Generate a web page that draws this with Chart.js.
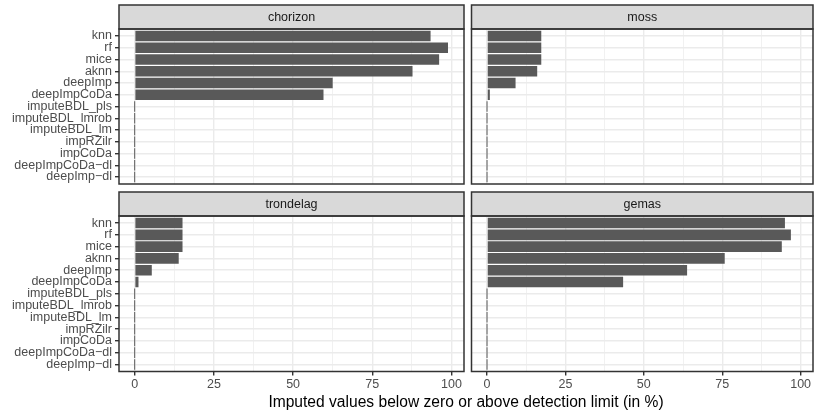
<!DOCTYPE html>
<html><head><meta charset="utf-8">
<script src="https://cdn.jsdelivr.net/npm/chart.js@4"></script>
<style>
html,body{margin:0;padding:0;background:#fff;}
#wrap{position:relative;width:815px;height:412px;overflow:hidden;font-family:"Liberation Sans",Arial,sans-serif;}
canvas{position:absolute;}
#xtitle{position:absolute;left:119px;width:694px;top:393px;text-align:center;font-size:15.6px;line-height:18px;color:#000;white-space:nowrap;}
</style></head>
<body><div id="wrap">
<canvas id="c0" width="466" height="186" style="left:0;top:0"></canvas>
<canvas id="c1" width="349" height="186" style="left:466px;top:0"></canvas>
<canvas id="c2" width="466" height="226" style="left:0;top:186px"></canvas>
<canvas id="c3" width="349" height="226" style="left:466px;top:186px"></canvas>
<div id="xtitle">Imputed values below zero or above detection limit (in %)</div>
</div>
<script>
const methods = ["knn","rf","mice","aknn","deepImp","deepImpCoDa","imputeBDL_pls","imputeBDL_lmrob","imputeBDL_lm","impRZilr","impCoDa","deepImpCoDa\u2212dl","deepImp\u2212dl"];
const panels = ["chorizon","moss","trondelag","gemas"];
const chorizon  = [93.4, 98.9, 96.1, 87.7, 62.5, 59.6, 0, 0, 0, 0, 0, 0, 0];
const moss      = [17.3, 17.3, 17.3, 16.0, 9.1, 0.9, 0, 0, 0, 0, 0, 0, 0];
const trondelag = [15.1, 15.1, 15.1, 13.9, 5.4, 1.2, 0, 0, 0, 0, 0, 0, 0];
const gemas     = [95.0, 96.9, 94.0, 75.8, 63.8, 43.4, 0, 0, 0, 0, 0, 0, 0];
const xTicks = [0, 25, 50, 75, 100];
const xMinorTicks = [12.5, 37.5, 62.5, 87.5];

const FONT = '"Liberation Sans", Arial, sans-serif';
const seriesByPanel = {chorizon, moss, trondelag, gemas};

const panelPlugin = {
  id: 'panelDeco',
  afterDraw(chart, args, opts) {
    const ctx = chart.ctx, a = chart.chartArea;
    ctx.save();
    const sTop = a.top - 24;
    ctx.fillStyle = '#D9D9D9';
    ctx.fillRect(a.left, sTop, a.right - a.left, 24);
    ctx.strokeStyle = '#333333';
    ctx.lineWidth = 1.5;
    ctx.strokeRect(a.left, sTop, a.right - a.left, 24);
    ctx.fillStyle = '#1A1A1A';
    ctx.font = '12.5px ' + FONT;
    ctx.textAlign = 'center';
    ctx.textBaseline = 'middle';
    ctx.fillText(opts.label, (a.left + a.right) / 2, sTop + 12.5);
    ctx.strokeRect(a.left, a.top, a.right - a.left, a.bottom - a.top);
    ctx.restore();
  }
};

function makeChart(id, name, showY, showX, pad) {
  const vals = seriesByPanel[name];
  const allX = xTicks.concat(xMinorTicks).sort((a, b) => a - b);
  new Chart(document.getElementById(id), {
    type: 'bar',
    data: {
      datasets: [{
        data: vals.map((v, i) => ({x: v, y: i + 1})),
        backgroundColor: '#595959',
        borderWidth: 0,
        barPercentage: 0.9,
        categoryPercentage: 1.0,
        minBarLength: 1
      }]
    },
    options: {
      indexAxis: 'y',
      responsive: false,
      animation: false,
      devicePixelRatio: 1,
      layout: {padding: pad},
      plugins: {legend: {display: false}, tooltip: {enabled: false}, panelDeco: {label: name}},
      scales: {
        x: {
          type: 'linear',
          offset: false,
          min: -4.95, max: 103.95,
          afterBuildTicks(scale) { scale.ticks = allX.map(v => ({value: v})); },
          afterFit(scale) {
            scale.height = showX ? 40.5 : 0;
            scale.paddingLeft = 0; scale.paddingRight = 0;
          },
          border: {display: false},
          grid: {
            color: '#EBEBEB',
            lineWidth: c => xTicks.includes(c.tick && c.tick.value) ? 1.4 : 0.7,
            drawTicks: showX,
            tickLength: 4,
            tickColor: c => xTicks.includes(c.tick && c.tick.value) ? '#333333' : 'rgba(0,0,0,0)'
          },
          ticks: {
            display: showX,
            autoSkip: false,
            maxRotation: 0,
            padding: 2,
            color: '#4D4D4D',
            font: {family: FONT, size: 12.5},
            callback: v => xTicks.includes(v) ? String(v) : ''
          }
        },
        y: {
          type: 'linear',
          offset: false,
          reverse: true,
          min: 0.4, max: 13.6,
          afterBuildTicks(scale) { scale.ticks = methods.map((m, i) => ({value: i + 1})); },
          afterFit(scale) {
            scale.width = showY ? 119 : 0;
            scale.paddingTop = 0; scale.paddingBottom = 0;
          },
          border: {display: false},
          grid: {
            color: '#EBEBEB',
            lineWidth: 1.4,
            offset: false,
            drawTicks: showY,
            tickLength: 4,
            tickColor: '#333333'
          },
          ticks: {
            display: showY,
            autoSkip: false,
            padding: 3,
            color: '#4D4D4D',
            font: {family: FONT, size: 12.5},
            callback: v => methods[v - 1]
          }
        }
      }
    },
    plugins: [panelPlugin]
  });
}

makeChart('c0', panels[0], true, false, {top: 29, right: 2, bottom: 2, left: 0});
makeChart('c1', panels[1], false, false, {top: 29, right: 2, bottom: 2, left: 5.5});
makeChart('c2', panels[2], true, true, {top: 30, right: 2, bottom: 0, left: 0});
makeChart('c3', panels[3], false, true, {top: 30, right: 2, bottom: 0, left: 5.5});
</script>
</body></html>
